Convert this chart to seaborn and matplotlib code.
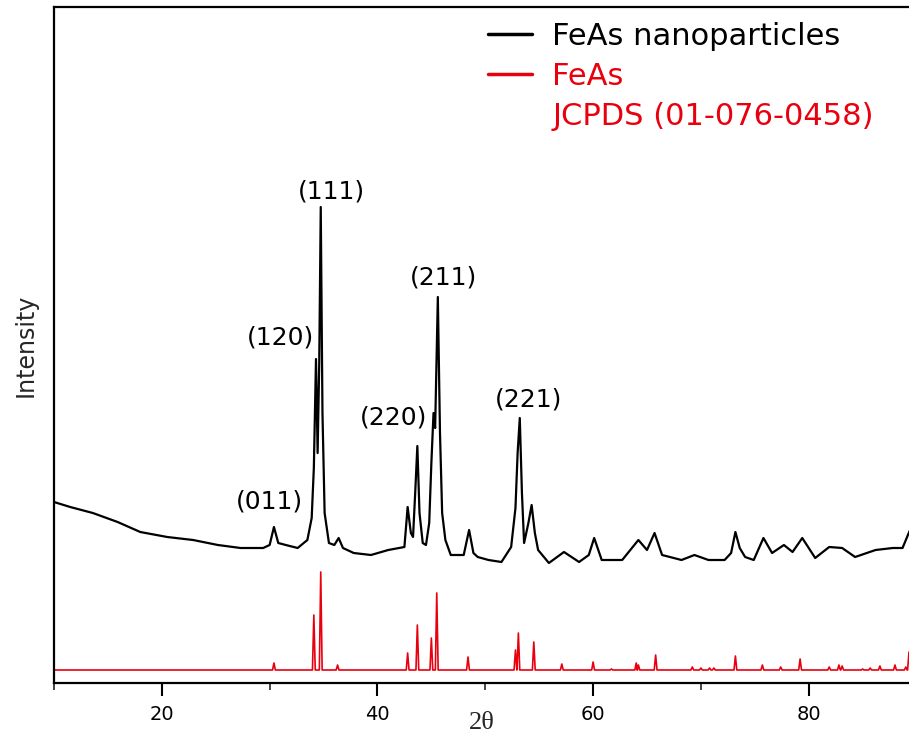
import numpy as np
import pandas as pd
import matplotlib
matplotlib.use("Agg")
import matplotlib.pyplot as plt
from matplotlib.lines import Line2D
from matplotlib.ticker import MultipleLocator
import seaborn as sns

# ---------------- data ----------------
# measured pattern of FeAs nanoparticles: 2theta, intensity (arb. units)
sample_2theta = [10.0, 11.5, 13.6, 15.9, 18.0, 20.5, 22.9, 25.2, 27.3, 29.4,
                 30.0, 30.4, 30.8, 31.5, 32.6, 33.5, 33.9, 34.1, 34.3, 34.45,
                 34.6, 34.74, 34.9, 35.1, 35.5, 36.0, 36.4, 36.8, 37.8, 39.4,
                 41.0, 42.5, 42.8, 43.1, 43.3, 43.5, 43.7, 43.9, 44.2, 44.5,
                 44.8, 45.0, 45.2, 45.35, 45.6, 45.8, 46.0, 46.3, 46.8, 48.0,
                 48.5, 48.9, 49.3, 50.3, 51.5, 52.4, 52.8, 53.0, 53.2, 53.4,
                 53.6, 54.0, 54.3, 54.6, 54.9, 55.9, 57.3, 58.7, 59.6, 60.1,
                 60.8, 62.7, 64.2, 65.0, 65.7, 66.4, 68.2, 69.4, 70.7, 72.2,
                 72.8, 73.2, 73.6, 74.1, 74.9, 75.8, 76.6, 77.7, 78.5, 79.4,
                 80.6, 81.9, 83.1, 84.3, 86.2, 87.8, 88.7, 89.2, 89.4]
sample_int = [181, 176, 170, 161, 151, 146, 143, 138, 135, 135,
              138, 156, 140, 138, 135, 143, 165, 215, 324, 230,
              320, 476, 270, 170, 140, 138, 145, 135, 130, 128,
              133, 136, 176, 150, 146, 190, 237, 170, 140, 138,
              160, 220, 270, 255, 386, 250, 170, 143, 128, 128,
              153, 130, 126, 123, 121, 136, 175, 230, 265, 190,
              140, 160, 178, 150, 133, 120, 131, 121, 128, 145,
              123, 123, 143, 133, 150, 128, 123, 128, 123, 123,
              130, 151, 135, 126, 123, 145, 130, 138, 131, 145,
              125, 136, 135, 126, 133, 135, 135, 148, 153]

# reference pattern JCPDS 01-076-0458: peak positions and peak-top intensities
ref_pos = [30.4, 34.1, 34.74, 36.3, 42.8, 43.7, 45.0, 45.5, 48.4, 52.8,
           53.07, 54.5, 57.1, 60.0, 61.7, 64.0, 64.2, 65.8, 69.2, 70.0,
           70.8, 71.2, 73.2, 75.7, 77.4, 79.2, 81.9, 82.8, 83.1, 85.0,
           85.7, 86.6, 88.0, 89.0, 89.3]
ref_int = [20, 68, 111, 18, 30, 58, 45, 90, 26, 33,
           50, 41, 19, 21, 14, 20, 18, 28, 16, 15,
           15, 15, 27, 18, 16, 24, 16, 18, 17, 14,
           15, 17, 18, 16, 31]
ref_base = 13

# peak labels (Miller indices) and their text positions
hkl_labels = ["(011)", "(120)", "(111)", "(220)", "(211)", "(221)"]
hkl_x = [29.94, 30.97, 35.7, 41.45, 46.1, 53.97]
hkl_y = [181, 345, 492, 265, 406, 283]

x_ticks = [20, 40, 60, 80]

RED = "#e8000f"

# ---------------- figure ----------------
sns.set_theme(style="white")
plt.rcParams["font.family"] = ["DejaVu Sans"]

W, H = 909, 738
fig = plt.figure(figsize=(W / 100, H / 100), dpi=100)
ax = fig.add_axes([54 / W, 1 - 683 / H, 1 - 54 / W, (683 - 7) / H])

df_s = pd.DataFrame({"two_theta": sample_2theta, "intensity": sample_int})
sns.lineplot(data=df_s, x="two_theta", y="intensity", color="black", lw=1.6,
             estimator=None, sort=False, ax=ax)

# reference peak profile built from the peak list
hw = 0.13
rx, ry = [10.0], [ref_base]
for p, h in zip(ref_pos, ref_int):
    rx += [p - hw, p, p + hw]
    ry += [ref_base, h, ref_base]
rx.append(89.6)
ry.append(ref_base)
df_r = pd.DataFrame({"two_theta": rx, "intensity": ry})
sns.lineplot(data=df_r, x="two_theta", y="intensity", color=RED, lw=1.2,
             estimator=None, sort=False, ax=ax)

ax.set_xlim(10, 89.3)
ax.set_ylim(0, 676)
ax.set_yticks([])
ax.set_xticks(x_ticks)
ax.xaxis.set_minor_locator(MultipleLocator(10))
ax.tick_params(axis="x", which="major", direction="out", length=9, width=1.5,
               labelsize=14, pad=7, colors="black", bottom=True)
ax.tick_params(axis="x", which="minor", direction="out", length=5, width=1.2,
               bottom=True)

for side in ["left", "bottom", "top"]:
    ax.spines[side].set_visible(True)
    ax.spines[side].set_color("black")
    ax.spines[side].set_linewidth(1.6)
ax.spines["right"].set_visible(False)

ax.set_xlabel("2θ", fontsize=19, family=["Liberation Serif", "DejaVu Serif"])
ax.xaxis.label.set_va("center")
ax.xaxis.set_label_coords(0.5, (683 - 723) / 676)
ax.set_ylabel("Intensity", fontsize=17)
ax.yaxis.label.set_va("center")
ax.yaxis.set_label_coords((26 - 54) / 855, 0.5)

for s, x, y in zip(hkl_labels, hkl_x, hkl_y):
    ax.text(x, y, s, ha="center", va="center", fontsize=18, color="black")

handles = [Line2D([], [], color="black", lw=2.5),
           Line2D([], [], color=RED, lw=2.5),
           Line2D([], [], color="none", lw=0)]
labels = ["FeAs nanoparticles", "FeAs", "JCPDS (01-076-0458)"]
leg = ax.legend(handles, labels, loc="upper left",
                bbox_to_anchor=(488 / W, 1 - 22 / H), bbox_transform=fig.transFigure,
                frameon=False, fontsize=22, handlelength=1.45, handletextpad=0.65,
                borderpad=0, borderaxespad=0, labelspacing=0.36)
for t, c in zip(leg.get_texts(), ["black", RED, RED]):
    t.set_color(c)

fig.savefig("out.png", dpi=100)
